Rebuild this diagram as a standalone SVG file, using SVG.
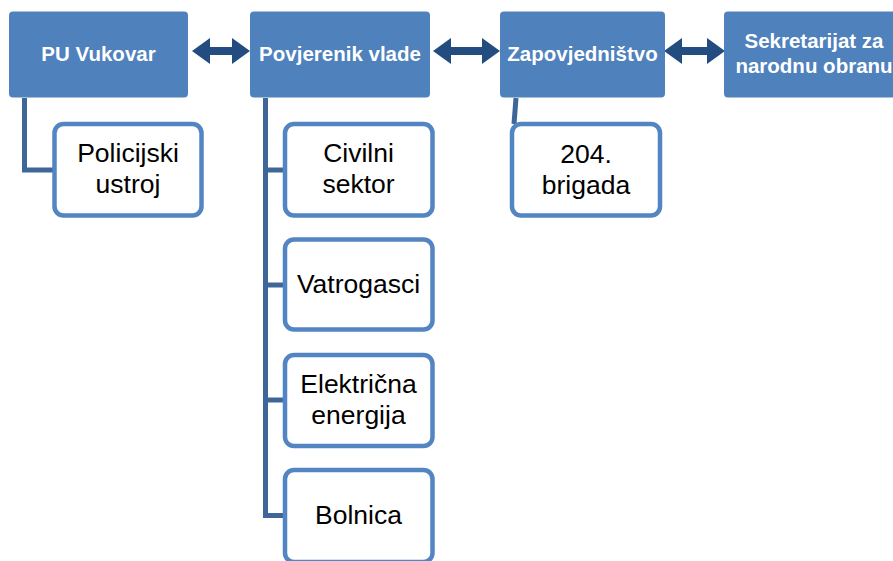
<svg xmlns="http://www.w3.org/2000/svg" width="893" height="561" viewBox="0 0 893 561">
<style>
.hd{fill:#4F81BD}
.ht{fill:#fff;font-family:"Liberation Sans",Arial,sans-serif;font-weight:bold;font-size:20.5px;text-anchor:middle}
.ch{fill:#fff;stroke:#5285C2;stroke-width:4.5}
.ct{fill:#000;font-family:"Liberation Sans",Arial,sans-serif;font-size:26.5px;text-anchor:middle}
.ln{fill:none;stroke:#3E6699;stroke-width:5}
.ar{fill:#234C80}
</style>
<rect width="893" height="561" fill="#fff"/>
<g id="connectors">
<polyline class="ln" points="24.5,98 24.5,170 56,170"/>
<polyline class="ln" points="265.5,98 265.5,515.5 285,515.5"/>
<line class="ln" x1="265.5" y1="170" x2="285" y2="170"/>
<line class="ln" x1="265.5" y1="285" x2="285" y2="285"/>
<line class="ln" x1="265.5" y1="400" x2="285" y2="400"/>
<line class="ln" x1="516" y1="98" x2="514" y2="124"/>
<polygon class="ar" points="192,51 210,38 210,47 232,47 232,38 250,51 232,64 232,55 210,55 210,64"/>
<polygon class="ar" points="433,51 451,38 451,47 482,47 482,38 500,51 482,64 482,55 451,55 451,64"/>
<polygon class="ar" points="664,51 682,38 682,47 707,47 707,38 725,51 707,64 707,55 682,55 682,64"/>
</g>
<g id="pu-vukovar"><rect class="hd" x="9" y="11.5" width="179" height="86" rx="4"/><text class="ht" x="98.5" y="61">PU Vukovar</text></g>
<g id="povjerenik-vlade"><rect class="hd" x="250" y="11.5" width="180" height="86" rx="4"/><text class="ht" x="340" y="61">Povjerenik vlade</text></g>
<g id="zapovjednistvo"><rect class="hd" x="500" y="11.5" width="165" height="86" rx="4"/><text class="ht" x="582.5" y="61">Zapovjedništvo</text></g>
<g id="sekretarijat"><rect class="hd" x="724" y="11.5" width="180" height="86" rx="4"/><text class="ht" x="814" y="48">Sekretarijat za</text><text class="ht" x="814" y="73">narodnu obranu</text></g>
<g id="policijski-ustroj"><rect class="ch" x="54.5" y="124" width="147" height="91.5" rx="9"/><text class="ct" x="128" y="162">Policijski</text><text class="ct" x="128" y="193">ustroj</text></g>
<g id="civilni-sektor"><rect class="ch" x="285" y="124" width="147.5" height="91.5" rx="9"/><text class="ct" x="358.5" y="162">Civilni</text><text class="ct" x="358.5" y="193">sektor</text></g>
<g id="vatrogasci"><rect class="ch" x="285" y="239.5" width="147.5" height="90" rx="9"/><text class="ct" x="358.5" y="293">Vatrogasci</text></g>
<g id="elektricna-energija"><rect class="ch" x="285" y="355" width="147.5" height="91" rx="9"/><text class="ct" x="358.5" y="393">Električna</text><text class="ct" x="358.5" y="424">energija</text></g>
<g id="bolnica"><rect class="ch" x="285" y="470" width="147.5" height="92" rx="9"/><text class="ct" x="358.5" y="524">Bolnica</text></g>
<g id="brigada-204"><rect class="ch" x="512" y="124" width="148" height="91.5" rx="9"/><text class="ct" x="586" y="163">204.</text><text class="ct" x="586" y="194">brigada</text></g>
</svg>
